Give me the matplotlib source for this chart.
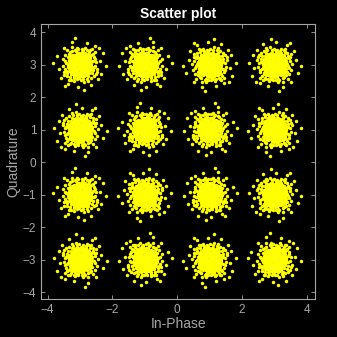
import matplotlib
matplotlib.use("Agg")
import matplotlib.pyplot as plt
import numpy as np

# 16-QAM constellation levels (in-phase / quadrature)
levels = [-3, -1, 1, 3]
q_rows = [3, 1, -1, -3]

# received-symbol scatter around each ideal point
# (same cloud shape reused, mirrored per cluster)
dx = [0.02, -0.11, 0.14, -0.06, 0.21, -0.19, 0.08, -0.25, 0.27, -0.03,
      0.11, -0.15, 0.31, -0.30, 0.05, -0.08, 0.18, -0.22, 0.24, -0.12,
      0.00, 0.33, -0.33, 0.15, -0.17, 0.07, -0.05, 0.26, -0.27, 0.12,
      -0.01, 0.19, -0.20, 0.29, -0.09, 0.04, -0.24, 0.16, -0.14, 0.09,
      -0.31, 0.35, -0.04, 0.22, -0.18, 0.03, -0.28, 0.13, -0.10, 0.28,
      -0.36, 0.06, -0.13, 0.20, -0.07, 0.10, -0.21, 0.17, -0.02, 0.23,
      -0.26, 0.32, -0.16, 0.01, 0.14, -0.34, 0.25, -0.11, 0.08, -0.23,
      0.30, -0.06, 0.18, -0.29, 0.04, -0.19, 0.36, -0.32, 0.12, -0.08,
      0.40, -0.42, 0.10, -0.08, 0.38, -0.35, 0.29, -0.31, 0.47, -0.47,
      0.02, -0.15, 0.44, -0.40, 0.22, -0.26, 0.50, -0.52, 0.16, 0.33,
      -0.45, 0.41, -0.20, 0.07, -0.38, 0.39, -0.10, 0.26, -0.49, 0.53,
      -0.04, 0.45, -0.33, 0.13, -0.41, 0.36, -0.54, 0.48, -0.25, 0.20,
      0.62, -0.65, 0.20, -0.05, 0.55, -0.50, 0.70, -0.72, 0.35, -0.38,
      0.80, -0.25, 0.45, -0.60, 0.12, -0.83, 0.66, -0.15, 0.58, -0.47]
dy = [0.05, 0.08, -0.03, -0.15, 0.12, -0.07, 0.24, 0.17, -0.18, -0.29,
      -0.21, 0.27, 0.04, -0.02, -0.08, 0.16, 0.29, -0.24, -0.09, -0.33,
      0.33, -0.14, 0.10, 0.14, 0.01, -0.35, 0.22, 0.22, -0.15, 0.02,
      -0.12, -0.27, 0.22, 0.15, -0.22, 0.13, 0.04, -0.14, -0.11, 0.31,
      0.24, -0.03, 0.02, 0.05, 0.12, -0.21, -0.28, 0.20, 0.30, -0.26,
      -0.08, 0.08, -0.03, -0.04, 0.09, -0.10, -0.16, 0.08, 0.18, -0.17,
      0.28, 0.27, -0.30, -0.03, 0.36, -0.20, 0.33, -0.06, -0.16, 0.09,
      -0.08, 0.35, -0.33, 0.16, 0.27, -0.36, 0.10, 0.01, -0.28, -0.26,
      0.12, 0.05, 0.44, -0.45, -0.27, 0.33, 0.40, -0.38, -0.05, -0.12,
      -0.48, 0.46, 0.24, -0.26, -0.44, 0.41, 0.08, 0.18, 0.51, -0.41,
      0.30, -0.18, -0.49, 0.40, -0.01, 0.34, 0.52, -0.36, -0.22, -0.15,
      -0.41, 0.40, -0.47, -0.53, 0.44, 0.47, -0.03, -0.30, 0.53, 0.45,
      0.10, -0.15, 0.66, -0.68, -0.45, 0.52, 0.35, 0.25, -0.64, -0.60,
      -0.05, 0.70, 0.58, -0.42, -0.78, 0.05, -0.28, 0.82, 0.52, -0.66]

# the dense, solid-looking centre of each cloud
core_dx = [-0.10, -0.03, 0.04, 0.11,
           -0.22, -0.15, -0.08, -0.01, 0.06, 0.13, 0.20,
           -0.28, -0.20, -0.13, -0.06, 0.02, 0.09, 0.16, 0.24,
           -0.31, -0.24, -0.17, -0.10, -0.03, 0.04, 0.11, 0.18, 0.25, 0.32,
           -0.34, -0.27, -0.20, -0.13, -0.06, 0.01, 0.08, 0.15, 0.22, 0.29,
           -0.31, -0.24, -0.17, -0.10, -0.03, 0.04, 0.11, 0.18, 0.25, 0.32,
           -0.35, -0.28, -0.21, -0.14, -0.07, 0.00, 0.07, 0.14, 0.21, 0.28, 0.35,
           -0.31, -0.24, -0.17, -0.10, -0.03, 0.04, 0.11, 0.18, 0.25, 0.32,
           -0.34, -0.27, -0.20, -0.13, -0.06, 0.01, 0.08, 0.15, 0.22, 0.29,
           -0.31, -0.24, -0.17, -0.10, -0.03, 0.04, 0.11, 0.18, 0.25, 0.31,
           -0.27, -0.20, -0.13, -0.06, 0.01, 0.08, 0.15, 0.22, 0.28,
           -0.20, -0.13, -0.06, 0.01, 0.08, 0.15, 0.21,
           -0.09, -0.02, 0.05, 0.12,
           0.42, -0.43, 0.05, -0.18, 0.34, -0.30, 0.42, -0.37, 0.25, -0.12,
           0.46, -0.46, 0.31, -0.28, 0.09, -0.50, 0.52, -0.05, 0.37, -0.39]
core_dy = [-0.35, -0.37, -0.34, -0.36,
           -0.29, -0.30, -0.28, -0.30, -0.29, -0.27, -0.30,
           -0.23, -0.22, -0.24, -0.23, -0.21, -0.24, -0.22, -0.23,
           -0.17, -0.16, -0.18, -0.17, -0.15, -0.18, -0.16, -0.17, -0.18, -0.16,
           -0.11, -0.12, -0.10, -0.11, -0.12, -0.10, -0.11, -0.12, -0.10, -0.11,
           -0.05, -0.04, -0.06, -0.05, -0.04, -0.06, -0.05, -0.04, -0.06, -0.05,
           0.01, 0.02, 0.00, 0.01, 0.02, 0.00, 0.01, 0.02, 0.00, 0.01, 0.02,
           0.07, 0.06, 0.08, 0.07, 0.06, 0.08, 0.07, 0.06, 0.08, 0.07,
           0.13, 0.14, 0.12, 0.13, 0.14, 0.12, 0.13, 0.14, 0.12, 0.13,
           0.19, 0.18, 0.20, 0.19, 0.18, 0.20, 0.19, 0.18, 0.20, 0.19,
           0.25, 0.26, 0.24, 0.25, 0.26, 0.24, 0.25, 0.26, 0.24,
           0.31, 0.30, 0.32, 0.31, 0.30, 0.32, 0.31,
           0.36, 0.37, 0.35, 0.36,
           -0.08, -0.20, 0.47, -0.42, 0.30, 0.38, -0.36, 0.22, -0.50, 0.43,
           0.17, 0.10, 0.45, -0.46, -0.45, -0.33, -0.22, 0.48, -0.08, -0.35]

# per-cluster mirroring of the cloud (row-major, top-left first)
flip_x = [1, -1, 1, -1, -1, 1, -1, 1, 1, 1, -1, -1, -1, -1, 1, 1]
flip_y = [1, 1, -1, -1, -1, 1, 1, -1, 1, -1, 1, -1, -1, 1, -1, 1]

cloud_x = np.array(dx + core_dx)
cloud_y = np.array(dy + core_dy)

xs, ys = [], []
k = 0
for q in q_rows:
    for i in levels:
        xs.append(i + flip_x[k] * cloud_x)
        ys.append(q + flip_y[k] * cloud_y)
        k += 1
xs = np.concatenate(xs)
ys = np.concatenate(ys)

fig = plt.figure(figsize=(3.37, 3.37), dpi=100, facecolor="black")
ax = fig.add_axes([0.122, 0.113, 0.813, 0.816], facecolor="black")

ax.plot(xs, ys, linestyle="none", marker="o", markersize=2.5,
        markeredgewidth=0, color=(1, 1, 0))

ax.set_xlim(-4.2, 4.25)
ax.set_ylim(-4.2, 4.25)
ax.set_xticks([-4, -2, 0, 2, 4])
ax.set_yticks([-4, -3, -2, -1, 0, 1, 2, 3, 4])

grey = "#a6a6a6"
for s in ax.spines.values():
    s.set_color(grey)
    s.set_linewidth(0.8)
ax.tick_params(direction="in", length=3, width=0.6, colors=grey,
               labelsize=8.5, top=True, right=True)
for lab in ax.get_xticklabels() + ax.get_yticklabels():
    lab.set_family("Liberation Sans")

ax.set_xlabel("In-Phase", color=grey, fontsize=10, family="Liberation Sans",
              labelpad=1)
ax.set_ylabel("Quadrature", color=grey, fontsize=10, family="Liberation Sans",
              labelpad=2)
ax.set_title("Scatter plot", color="white", fontsize=10, fontweight="bold",
             family="Liberation Sans", pad=4)

fig.savefig("out.png", dpi=100, facecolor="black")
